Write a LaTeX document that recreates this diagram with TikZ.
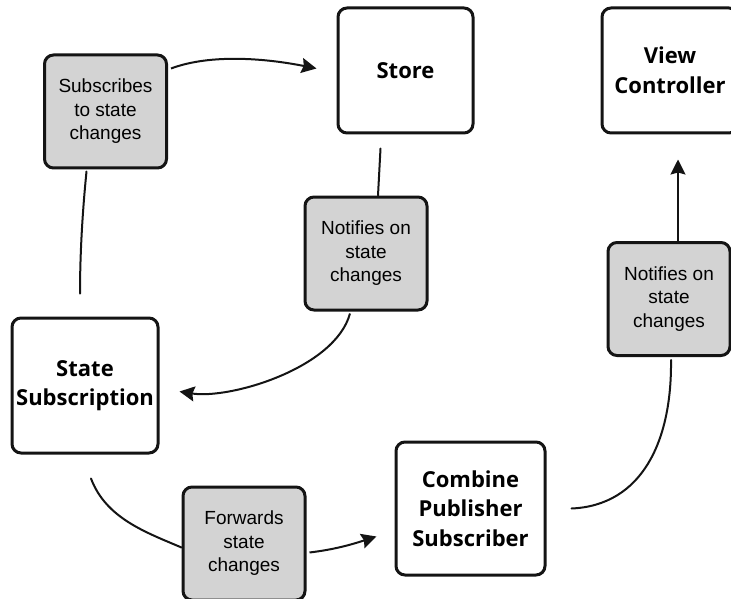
\documentclass[tikz,border=0pt]{standalone}
\usepackage{fontspec}
\setmainfont{Liberation Sans}
\newfontfamily\compfont{Open Sans}
\usetikzlibrary{arrows.meta, calc}
\definecolor{noteGray}{HTML}{D3D3D3}
\colorlet{inkBlack}{black!92}

\begin{document}
\begin{tikzpicture}[x=1pt, y=-1pt,
  every node/.style={font=\fontsize{19}{23.5}\selectfont},
  comp/.style={draw=inkBlack, fill=white, rounded corners=9pt, line width=3pt,
               align=center, inner sep=0pt,
               font=\compfont\bfseries\fontsize{22}{29.5}\selectfont},
  note/.style={draw=inkBlack, fill=noteGray, rounded corners=9pt, line width=3pt,
               align=center, inner sep=0pt,
               minimum width=122pt, minimum height=113pt},
  arr/.style={-{Stealth[length=15pt, width=15pt, inset=2pt]}, line width=2pt, inkBlack},
  link/.style={line width=2pt, line cap=round, inkBlack},
]
  \clip (0,0) rectangle (731,599);

  \node[note] (subs) at (105.5,111.5) {Subscribes\\to state\\changes};
  \node[comp, minimum width=135pt, minimum height=125pt] (store) at (405.5,70.5) {Store};
  \node[comp, minimum width=136pt, minimum height=125pt] (viewCtrl) at (670,70.5) {View\\Controller};
  \node[note] (notifyStore) at (366,253.5) {Notifies on\\state\\changes};
  \node[note] (notifyView) at (669,299) {Notifies on\\state\\changes};
  \node[comp, minimum width=146pt, minimum height=135pt] (stateSub) at (85,385.5) {State\\Subscription};
  \node[comp, minimum width=149pt, minimum height=133pt] (combine) at (470.5,508.5) {Combine\\Publisher\\Subscriber};
  \node[note] (forward) at (244,543.5) {Forwards\\state\\changes};

  % subscription loop
  \draw[arr] ($(subs.east)+(3,-43)$) .. controls +(40,-15) and +(-50,-10) .. ($(store.west)+(-20,-2)$);
  \draw[link] ($(subs.south)+(-19,2)$) .. controls +(-4,40) and +(0,-40) .. ($(stateSub.north)+(-5,-23)$);
  \draw[link] ($(store.south)+(-25,14)$) -- ($(notifyStore.north)+(12,0)$);
  \draw[arr] ($(notifyStore.south)+(-16,2)$) .. controls +(-15,55) and +(50,8) .. ($(stateSub.east)+(20,6)$);

  % forwarding to the view
  \draw[link] ($(stateSub.south)+(6,24)$) .. controls +(15,40) and +(-35,-15) .. ($(forward.west)+(0,4)$);
  \draw[arr] ($(forward.east)+(3,9)$) .. controls +(25,-3) and +(-25,8) .. ($(combine.west)+(-18,28)$);
  \draw[link] ($(combine.east)+(25,0)$) .. controls +(70,-3) and +(1,82) .. ($(notifyView.south)+(2,3)$);
  \draw[arr] ($(notifyView.north)+(9,0)$) -- ($(viewCtrl.south)+(8,25)$);
\end{tikzpicture}
\end{document}
